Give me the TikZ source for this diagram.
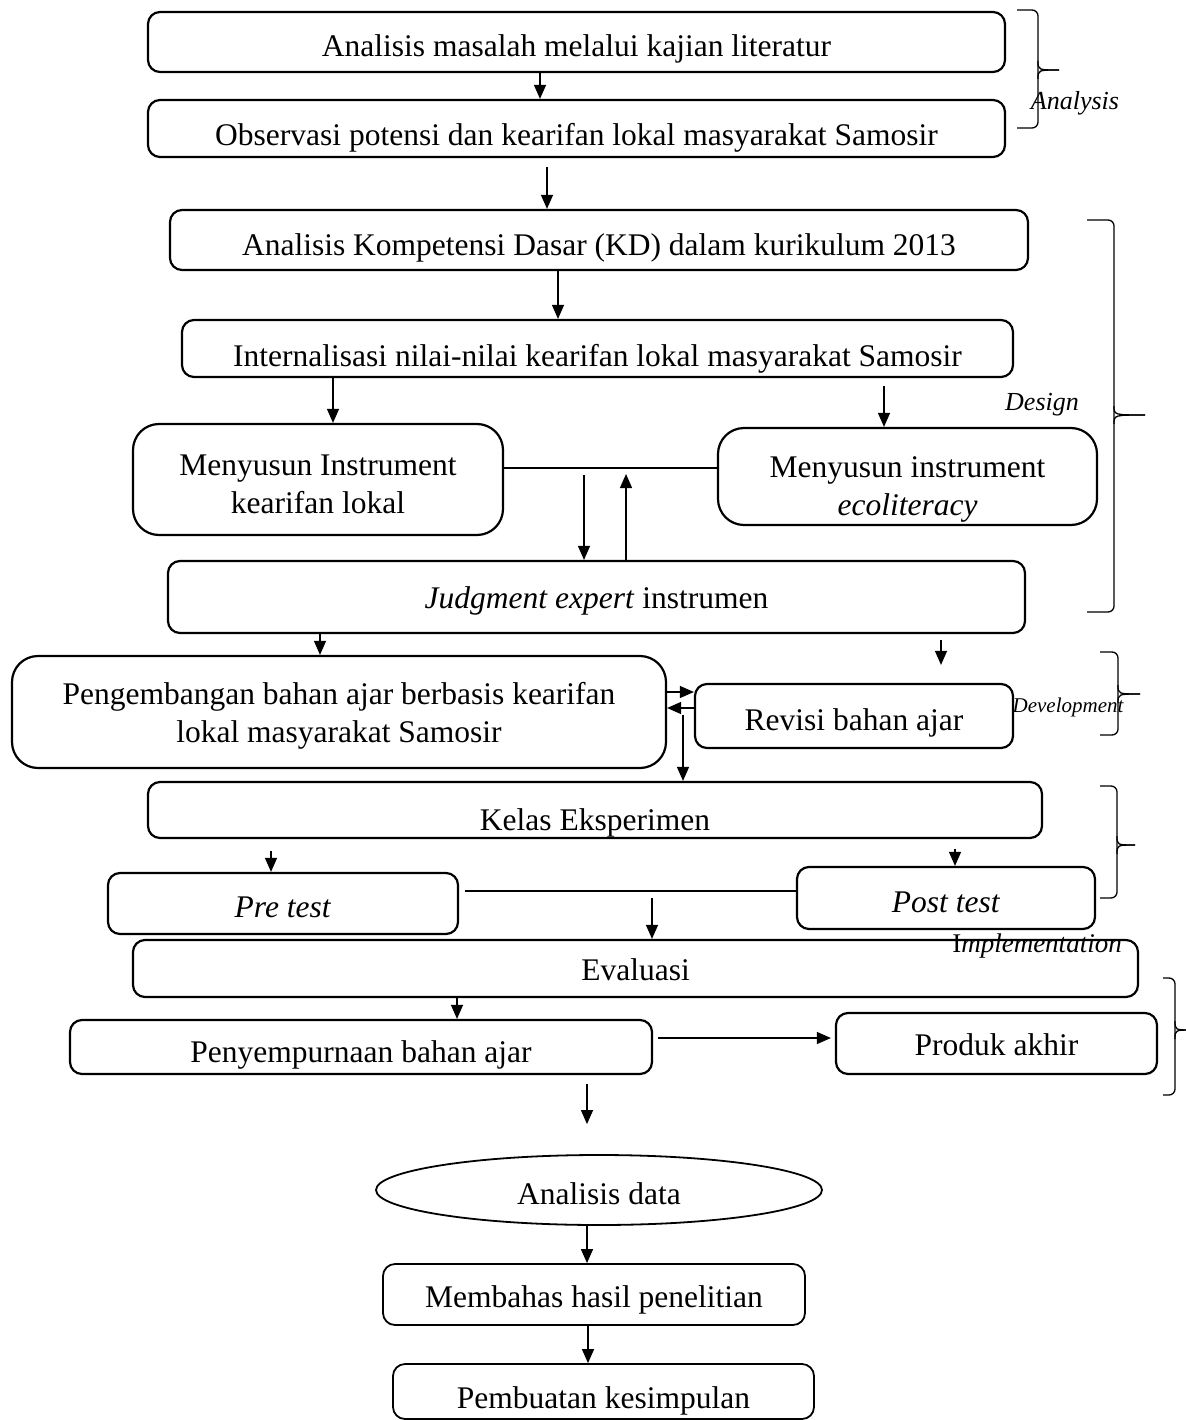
\documentclass[tikz,border=0pt]{standalone}
\usepackage{fontspec}
\setmainfont{Liberation Serif}
\usetikzlibrary{arrows.meta, shapes.geometric}
\newcommand{\vstrut}[1]{\rule{0pt}{#1}}

\tikzset{
  box/.style={draw, line width=2.2pt, rounded corners=12pt, inner sep=0pt, font=\fontsize{31.5}{38}\selectfont},
  bigbox/.style={box, rounded corners=26pt, align=center},
  tbase/.style={text height=#1, text depth=0pt},
  arr/.style={-{Triangle[length=14pt, width=12pt]}, line width=1.2pt},
  link/.style={line width=1.2pt},
  brc/.style={line width=1.3pt},
  phase/.style={font=\fontsize{26}{30}\selectfont\itshape, inner sep=0pt}
}

\begin{document}
\begin{tikzpicture}[x=1pt, y=-1pt]
    \useasboundingbox (0,0) rectangle (1185,1420);

    % Analysis
    \node[box, tbase=30pt, minimum width=857pt, minimum height=60pt] (kajian) at (576.5,42) {Analisis masalah melalui kajian literatur};
    \node[box, tbase=35pt, minimum width=857pt, minimum height=57pt] (observasi) at (576.5,128.5) {Observasi potensi dan kearifan lokal masyarakat Samosir};

    % Design
    \node[box, tbase=32pt, minimum width=858pt, minimum height=60pt] (kd) at (599,240) {Analisis Kompetensi Dasar (KD) dalam kurikulum 2013};
    \node[box, tbase=35pt, minimum width=831pt, minimum height=57pt] (internal) at (597.5,348.5) {Internalisasi nilai-nilai kearifan lokal masyarakat Samosir};
    \node[bigbox, minimum width=370pt, minimum height=111pt] (instkl) at (318,479.5) {\vstrut{30pt}Menyusun Instrument\\kearifan lokal};
    \node[bigbox, minimum width=379pt, minimum height=97pt] (insteco) at (907.5,476.5) {\vstrut{46pt}Menyusun instrument\\\textit{ecoliteracy}};
    \node[box, tbase=22pt, minimum width=857pt, minimum height=72pt] (judgment) at (596.5,597) {\textit{Judgment expert} instrumen};

    % Development
    \node[bigbox, minimum width=654pt, minimum height=112pt] (pengembangan) at (339,712) {\vstrut{29pt}Pengembangan bahan ajar berbasis kearifan\\lokal masyarakat Samosir};
    \node[box, tbase=28pt, minimum width=318pt, minimum height=64pt] (revisi) at (854,716) {Revisi bahan ajar};

    % Implementation
    \node[box, tbase=40pt, minimum width=894pt, minimum height=56pt] (kelas) at (595,810) {Kelas Eksperimen};
    \node[box, tbase=27pt, minimum width=350pt, minimum height=61pt] (pretest) at (283,903.5) {\textit{Pre test}};
    \node[box, tbase=28pt, minimum width=298pt, minimum height=62pt] (posttest) at (946,898) {\textit{Post test}};

    % Evaluation
    \node[box, tbase=23pt, minimum width=1005pt, minimum height=57pt] (evaluasi) at (635.5,968.5) {Evaluasi};
    \node[box, tbase=30pt, minimum width=582pt, minimum height=54pt] (sempurna) at (361,1047) {Penyempurnaan bahan ajar};
    \node[box, tbase=23pt, minimum width=321pt, minimum height=61pt] (produk) at (996.5,1043.5) {Produk akhir};

    % Closing steps
    \node[box, ellipse, line width=1.8pt, tbase=28pt, minimum width=446pt, minimum height=70pt] (analdata) at (599,1190) {Analisis data};
    \node[box, line width=1.8pt, tbase=25pt, minimum width=422pt, minimum height=61pt] (bahas) at (594,1294.5) {Membahas hasil penelitian};
    \node[box, line width=1.8pt, tbase=33pt, minimum width=421pt, minimum height=55pt] (simpul) at (603.5,1391.5) {Pembuatan kesimpulan};

    % Junction points
    \coordinate (jdown) at (584,475);
    \coordinate (jup) at (626,474);
    \coordinate (rdown) at (683,715);
    \coordinate (pdown) at (652,898);

    % Arrows
    \draw[arr] (kajian.south -| 540,0) -- (observasi.north -| 540,0);
    \draw[arr, shorten <=9pt] (observasi.south -| 547,0) -- (kd.north -| 547,0);
    \draw[arr] (kd.south -| 558,0) -- (internal.north -| 558,0);
    \draw[arr] (internal.south -| 333,0) -- (instkl.north -| 333,0);
    \draw[arr, shorten <=8pt] (internal.south -| 884,0) -- (insteco.north -| 884,0);
    \draw[link] (instkl.east |- 0,468) -- (insteco.west |- 0,468);
    \draw[arr] (jdown) -- (judgment.north -| jdown);
    \draw[arr] (judgment.north -| jup) -- (jup);
    \draw[arr] (judgment.south -| 320,0) -- (pengembangan.north -| 320,0);
    \draw[arr, shorten <=6pt, shorten >=18pt] (judgment.south -| 941,0) -- (revisi.north -| 941,0);
    \draw[arr] (pengembangan.east |- 0,692) -- (revisi.west |- 0,692);
    \draw[arr] (revisi.west |- 0,708) -- (pengembangan.east |- 0,708);
    \draw[arr] (rdown) -- (kelas.north -| rdown);
    \draw[arr, shorten <=12pt] (kelas.south -| 271,0) -- (pretest.north -| 271,0);
    \draw[arr, shorten <=10pt] (kelas.south -| 955,0) -- (posttest.north -| 955,0);
    \draw[link, shorten <=6pt] (pretest.east |- 0,891) -- (posttest.west |- 0,891);
    \draw[arr] (pdown) -- (evaluasi.north -| pdown);
    \draw[arr] (evaluasi.south -| 457,0) -- (sempurna.north -| 457,0);
    \draw[arr, shorten <=5pt, shorten >=4pt] (sempurna.east |- 0,1038) -- (produk.west |- 0,1038);
    \draw[arr, shorten <=9pt, shorten >=30pt] (sempurna.south -| 587,0) -- (analdata.north -| 587,0);
    \draw[arr] (analdata.south -| 587,0) -- (bahas.north -| 587,0);
    \draw[arr] (bahas.south -| 588,0) -- (simpul.north -| 588,0);

    % Phase braces
    \foreach \x/\v/\t/\ya/\yb/\ym in {1017/1038/1059/10/128/70, 1087/1114/1145/220/612/415,
        1100/1118/1140/652/735/694, 1100/1117/1135/786/898/845, 1163/1175/1192/978/1095/1030} {
        \draw[brc, rounded corners=6pt] (\x,\ya) -- (\v,\ya) -- (\v,\yb) -- (\x,\yb);
        \draw[brc] (\v,\ym-9) .. controls (\v,\ym) .. (\t,\ym);
        \draw[brc] (\v,\ym+9) .. controls (\v,\ym) .. (\t,\ym);
    }

    % Phase labels
    \node[phase] (lblanalysis) at (1075,103) {Analysis};
    \node[phase] (lbldesign) at (1042,405) {Design};
    \node[phase, font=\fontsize{21}{24}\selectfont\itshape] (lbldevelop) at (1068,707) {Development};
    \node[phase, font=\fontsize{27}{30}\selectfont\itshape] (lblimplement) at (1037,946) {\textup{I}mplementation};
\end{tikzpicture}
\end{document}
